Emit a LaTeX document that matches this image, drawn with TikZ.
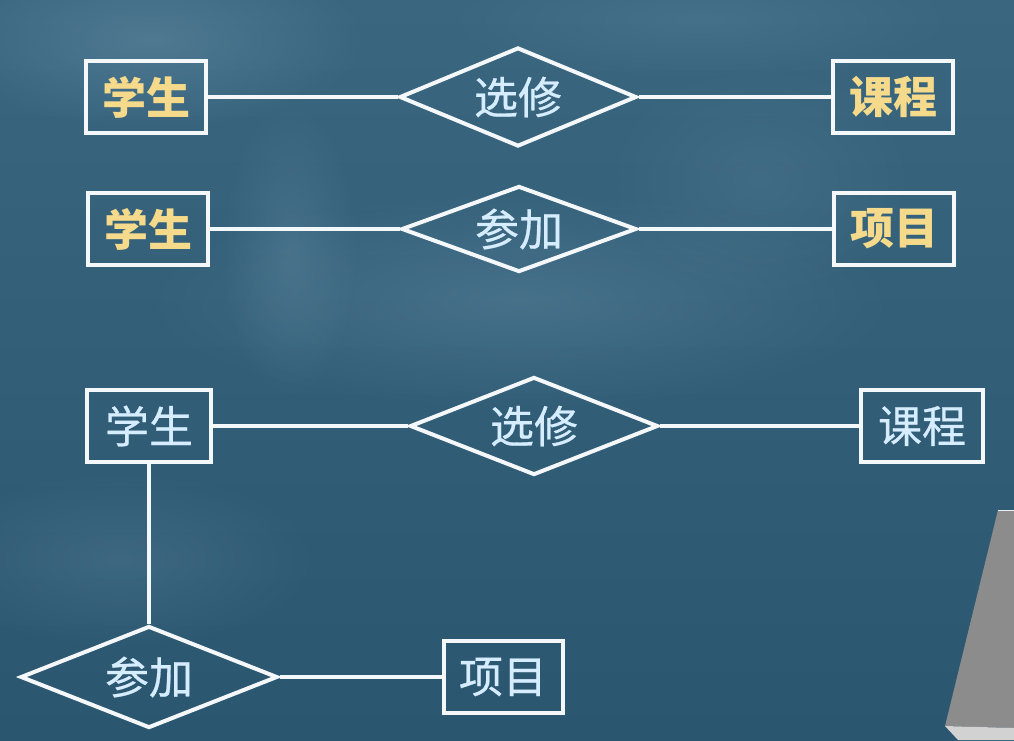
\documentclass[tikz,border=0pt]{standalone}
\usepackage{fontspec}
\newfontfamily\cjk[FakeBold=0.6]{Noto Sans CJK SC}
\newfontfamily\cjkbold{Noto Sans CJK SC}
\usetikzlibrary{shapes.geometric,fadings}
\definecolor{bgtop}{HTML}{3A6680}
\definecolor{bgbot}{HTML}{2B5670}
\definecolor{haze}{HTML}{6A92A8}
\definecolor{gold}{HTML}{F4DA8A}
\definecolor{ice}{HTML}{D6EDFF}
\definecolor{edge}{HTML}{F4F8FA}
\definecolor{slab}{HTML}{8C8C8C}
\definecolor{slablight}{HTML}{D2D2D2}
\tikzfading[name=softblob, inner color=transparent!0, outer color=transparent!100]
\tikzset{
  entity/.style={draw=edge, line width=4pt, rectangle, inner sep=0pt,
    minimum width=120pt, minimum height=72pt, font=\cjk\fontsize{44}{44}\selectfont, text=ice},
  relation/.style={draw=edge, line width=4pt, diamond, aspect=2.6, inner sep=0pt,
    font=\cjk\fontsize{44}{44}\selectfont, text=ice},
  strong/.style={font=\cjkbold\bfseries\fontsize{44}{44}\selectfont, text=gold},
  link/.style={draw=edge, line width=4pt},
  blob/.style={fill=haze, path fading=softblob, fill opacity=#1}
}
\begin{document}
\begin{tikzpicture}[x=1pt, y=-1pt]
  % backdrop
  \shade[top color=bgtop, bottom color=bgbot] (0,0) rectangle (1014,740);
  \useasboundingbox (0,0) rectangle (1014,740);
  \fill[blob=0.45] (150,40) ellipse (220 and 90);
  \fill[blob=0.35] (520,300) ellipse (380 and 110);
  \fill[blob=0.30] (290,250) ellipse (70 and 150);
  \fill[blob=0.25] (700,20) ellipse (260 and 60);
  \fill[blob=0.25] (120,560) ellipse (200 and 90);
  \fill[blob=0.20] (760,180) ellipse (160 and 120);

  % corner of a grey slab
  \fill[slab] (998,510) -- (1014,510) -- (1014,728) -- (945,726) -- cycle;
  \fill[slablight] (945,726) -- (1014,728) -- (1014,740) -- (958,740) -- cycle;
  \draw[white!85!slab, line width=1pt] (998,510) -- (1014,510);

  % row 1
  \node[entity, strong] (s1) at (146,97) {学生};
  \node[relation, minimum width=237pt, minimum height=99pt] (r1) at (518,97) {选修};
  \node[entity, strong] (c1) at (893,97) {课程};
  \draw[link] (s1.east) -- (r1.west);
  \draw[link] (r1.east) -- (c1.west);

  % row 2
  \node[entity, strong] (s2) at (148,229) {学生};
  \node[relation, minimum width=235pt, minimum height=86pt] (r2) at (519,229) {参加};
  \node[entity, strong] (p2) at (894,229) {项目};
  \draw[link] (s2.east) -- (r2.west);
  \draw[link] (r2.east) -- (p2.west);

  % combined diagram
  \node[entity, minimum width=124pt] (s3) at (149,426) {学生};
  \node[relation, minimum width=248pt, minimum height=98pt] (r3) at (534,426) {选修};
  \node[entity, minimum width=122pt] (c3) at (922,426) {课程};
  \node[relation, minimum width=257pt, minimum height=102pt] (r4) at (149,677) {参加};
  \node[entity, minimum width=119pt] (p4) at (503,677) {项目};
  \draw[link] (s3.east) -- (r3.west);
  \draw[link] (r3.east) -- (c3.west);
  \draw[link] (s3.south) -- (r4.north);
  \draw[link] (r4.east) -- (p4.west);
\end{tikzpicture}
\end{document}
